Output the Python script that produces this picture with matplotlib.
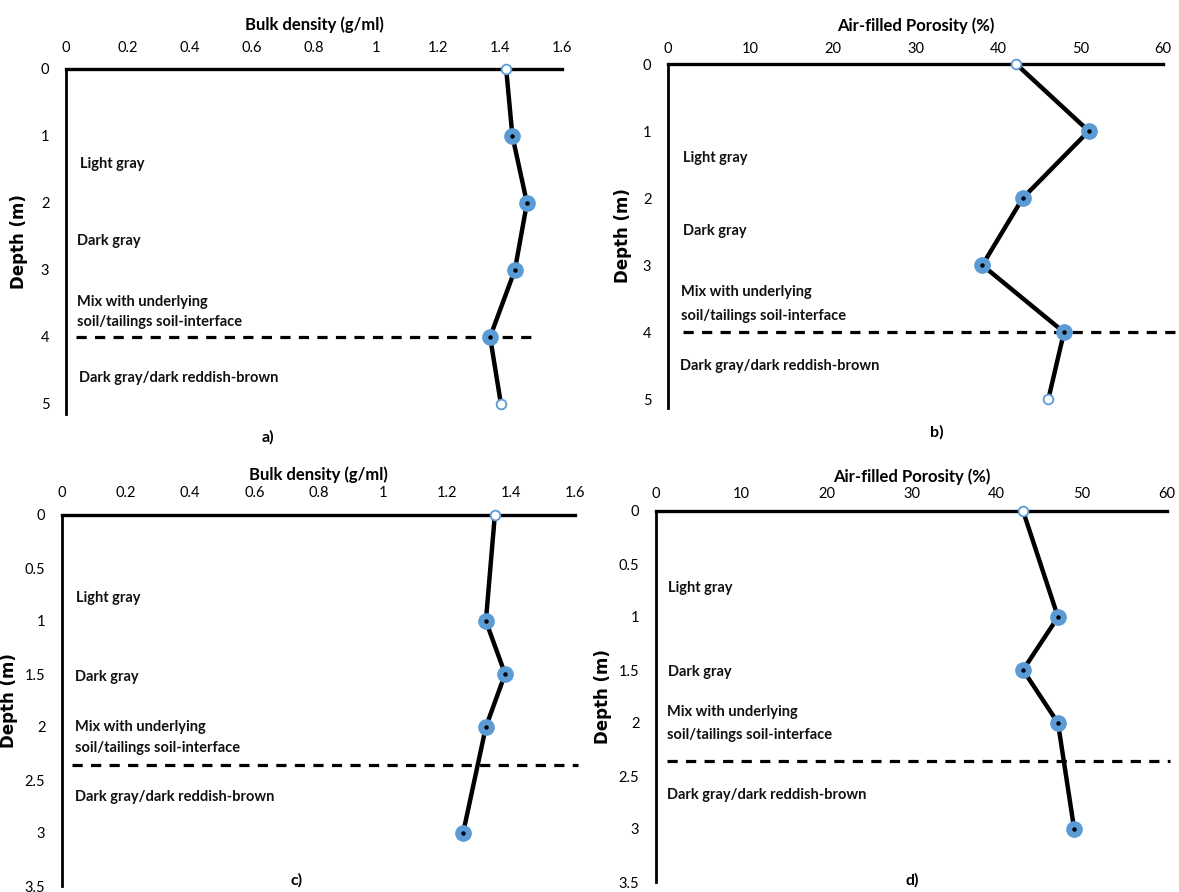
import matplotlib
matplotlib.use("Agg")
import matplotlib.pyplot as plt

# depth profiles
depth_ab = [0, 1, 2, 3, 4, 5]
depth_cd = [0, 1, 1.5, 2, 3]

bulk_a = [1.42, 1.44, 1.487, 1.448, 1.368, 1.403]
porosity_b = [42.2, 51.0, 43.0, 38.1, 48.0, 46.1]
bulk_c = [1.35, 1.322, 1.382, 1.322, 1.251]
porosity_d = [43.1, 47.2, 43.1, 47.2, 49.1]

bulk_ticks = [0, 0.2, 0.4, 0.6, 0.8, 1, 1.2, 1.4, 1.6]
bulk_ticklabels = ["0", "0.2", "0.4", "0.6", "0.8", "1", "1.2", "1.4", "1.6"]
por_ticks = [0, 10, 20, 30, 40, 50, 60]
depth_ticks_ab = [0, 1, 2, 3, 4, 5]
depth_ticks_cd = [0, 0.5, 1, 1.5, 2, 2.5, 3, 3.5]

layer_labels = ["Light gray", "Dark gray", "Mix with underlying",
                "soil/tailings soil-interface", "Dark gray/dark reddish-brown"]

FONT = ["Lato", "DejaVu Sans"]
BLUE = "#5b9bd5"
W, H = 1179, 892

fig = plt.figure(figsize=(W / 100, H / 100), dpi=100)


def panel(rect, x, d, xlim, ylim, xticks, xticklabels, yticks, xtitle,
          label_x, label_y, interface, dash_x, panel_tag, tag_xy, hollow,
          xpad, titlepad, ylab_off):
    ax = fig.add_axes(rect)
    ax.set_xlim(*xlim)
    ax.set_ylim(*ylim)
    for s in ["right", "bottom"]:
        ax.spines[s].set_visible(False)
    ax.spines["top"].set_linewidth(2.4)
    ax.spines["left"].set_linewidth(2.0)
    ax.xaxis.tick_top()
    ax.xaxis.set_label_position("top")
    ax.set_xticks(xticks)
    ax.set_xticklabels(xticklabels, family=FONT, fontsize=10.5)
    ax.set_yticks(yticks)
    ax.set_yticklabels([("%g" % v) for v in yticks], family=FONT, fontsize=10.5)
    ax.tick_params(length=0)
    ax.tick_params(axis="y", pad=12)
    ax.tick_params(axis="x", pad=xpad)
    ax.set_xlabel(xtitle, family=FONT, fontsize=12, fontweight="bold",
                  labelpad=titlepad)
    ax.set_ylabel("Depth (m)", family="DejaVu Sans", fontsize=12, fontweight="bold")
    ax.yaxis.set_label_coords(-ylab_off / (rect[2] * W), 0.5)

    # layer boundary
    ax.plot(dash_x, [interface, interface], color="black", lw=2.3,
            ls=(0, (3.2, 2.6)), clip_on=False, zorder=2)

    ax.plot(x, d, color="black", lw=3.2, zorder=3, clip_on=False)
    for i, (xv, dv) in enumerate(zip(x, d)):
        if i in hollow:
            ax.plot(xv, dv, "o", ms=7, mfc="white", mec=BLUE, mew=1.3,
                    zorder=4, clip_on=False)
        else:
            ax.plot(xv, dv, "o", ms=11, mfc=BLUE, mec=BLUE, zorder=4, clip_on=False)
            ax.plot(xv, dv, "o", ms=2.2, color="black", zorder=5, clip_on=False)

    for txt, lx, ly in zip(layer_labels, label_x, label_y):
        ax.text(lx, ly, txt, family=FONT, fontsize=10.5, fontweight="bold",
                color="#111111", va="center", ha="left")

    fig.text(tag_xy[0] / W, 1 - tag_xy[1] / H, panel_tag, family=FONT, fontsize=11.5,
             fontweight="bold", ha="center", va="center")
    return ax


panel([66 / W, 1 - 414 / H, 496 / W, 345 / H], bulk_a, depth_ab, (0, 1.6), (5.15, 0),
      bulk_ticks, bulk_ticklabels, depth_ticks_ab, "Bulk density (g/ml)",
      [0.045, 0.036, 0.036, 0.036, 0.042], [1.42, 2.57, 3.48, 3.78, 4.61],
      4, [0.032, 1.506], "a)", (268, 437), [0, 5], 10, 8, 38)

panel([668 / W, 1 - 408 / H, 495 / W, 344 / H], porosity_b, depth_ab, (0, 60), (5.13, 0),
      por_ticks, [str(v) for v in por_ticks], depth_ticks_ab,
      "Air-filled Porosity (%)",
      [1.8, 1.8, 1.6, 1.6, 1.45], [1.40, 2.49, 3.40, 3.76, 4.51],
      4, [1.8, 61.5], "b)", (937, 432), [0, 5], 6, 8, 36)

panel([62 / W, 1 - 886 / H, 513 / W, 371 / H], bulk_c, depth_cd, (0, 1.6), (3.5, 0),
      bulk_ticks, bulk_ticklabels, depth_ticks_cd, "Bulk density (g/ml)",
      [0.044, 0.040, 0.040, 0.040, 0.040], [0.78, 1.53, 2.0, 2.2, 2.66],
      2.36, [0.031, 1.609], "c)", (297, 880), [0], 11, 4, 44)

panel([656 / W, 1 - 882 / H, 511 / W, 371 / H], porosity_d, depth_cd, (0, 60), (3.5, 0),
      por_ticks, [str(v) for v in por_ticks], depth_ticks_cd,
      "Air-filled Porosity (%)",
      [1.4, 1.4, 1.3, 1.3, 1.3], [0.73, 1.52, 1.9, 2.11, 2.68],
      2.36, [1.3, 60.35], "d)", (912, 880), [0], 7, 4, 44)

fig.savefig("out.png", dpi=100)
